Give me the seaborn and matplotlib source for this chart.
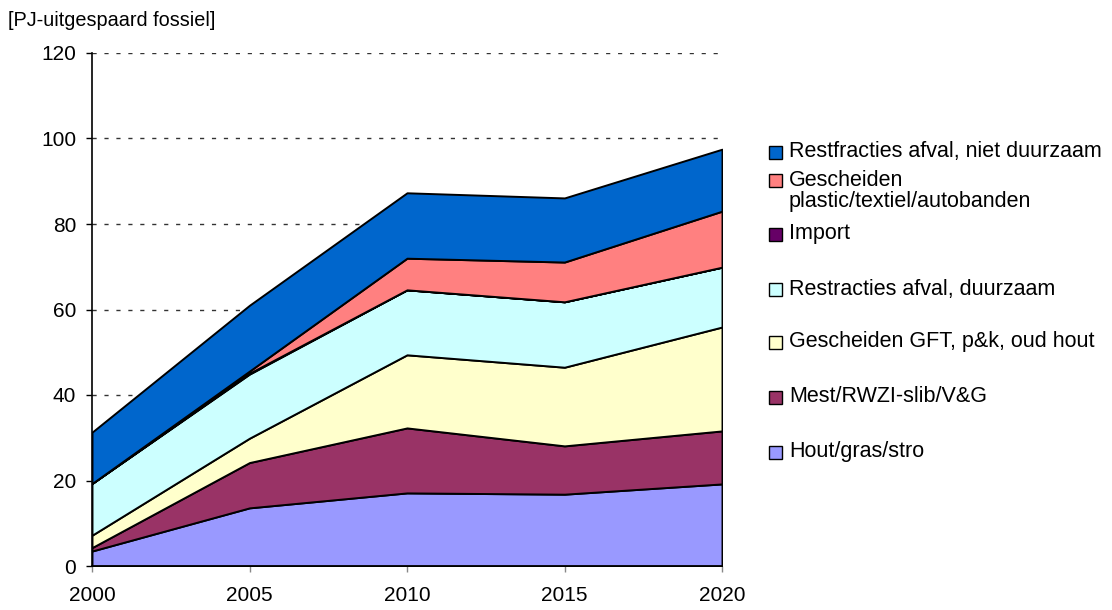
import matplotlib
matplotlib.use("Agg")
import matplotlib.pyplot as plt
from matplotlib.patches import Rectangle
import seaborn as sns

years = [2000, 2005, 2010, 2015, 2020]

# Layer sizes (PJ saved fossil), bottom to top
hout = [3.5, 13.6, 17.1, 16.8, 19.2]
mest = [0.8, 10.6, 15.2, 11.3, 12.4]
gft = [2.9, 5.7, 17.1, 18.4, 24.3]
rest_duurzaam = [12.1, 15.0, 15.2, 15.3, 14.0]
import_ = [0.0, 0.2, 0.0, 0.0, 0.0]
plastic = [0.0, 0.5, 7.4, 9.3, 13.1]
rest_niet = [12.0, 15.4, 15.3, 15.0, 14.5]

labels = [
    "Hout/gras/stro",
    "Mest/RWZI-slib/V&G",
    "Gescheiden GFT, p&k, oud hout",
    "Restracties afval, duurzaam",
    "Import",
    "Gescheiden\nplastic/textiel/autobanden",
    "Restfracties afval, niet duurzaam",
]
colors = ["#9999FF", "#993366", "#FFFFCC", "#CCFFFF", "#660066", "#FF8080", "#0066CC"]
yticks = [0, 20, 40, 60, 80, 100, 120]

sns.set_style("white")
plt.rcParams["font.family"] = ["Liberation Sans", "DejaVu Sans"]
plt.rcParams["text.color"] = "black"
plt.rcParams["xtick.color"] = "black"
plt.rcParams["ytick.color"] = "black"

fig = plt.figure(figsize=(11.12, 6.10), dpi=100)
ax = fig.add_axes([92 / 1112, 1 - 566 / 610, 630 / 1112, 513 / 610])

layers = [hout, mest, gft, rest_duurzaam, import_, plastic, rest_niet]
ax.stackplot(years, *layers, colors=colors, edgecolor="black", linewidth=1.4, zorder=2)

ax.set_xlim(2000, 2020)
ax.set_ylim(0, 120)
ax.set_xticks(years)
ax.set_yticks(yticks)
ax.yaxis.grid(True, linestyle=(0, (3, 5.6)), color="#333333", linewidth=1.0)
ax.set_axisbelow(True)

for side in ["top", "right"]:
    ax.spines[side].set_visible(False)
for side in ["left", "bottom"]:
    ax.spines[side].set_color("black")
    ax.spines[side].set_linewidth(1.2)
    ax.spines[side].set_zorder(3)

ax.tick_params(axis="y", which="major", direction="out", length=4.5, width=1,
               color="black", labelcolor="black", labelsize=15, pad=7, left=True)
ax.tick_params(axis="x", which="major", direction="out", length=4.5, width=1,
               color="#888888", labelcolor="black", labelsize=15, pad=10, bottom=True)

fig.text(8 / 1112, 1 - 20 / 610, "[PJ-uitgespaard fossiel]", fontsize=14.3,
         ha="left", va="center")

# Legend, top entry first: (layer index, text centre y in pixels)
legend_rows = [
    (6, 152, 152),
    (5, 180, 191),
    (4, 234, 234),
    (3, 289, 289),
    (2, 342, 342),
    (1, 397, 397),
    (0, 452, 452),
]
box = 13
for idx, y_box, y_text in legend_rows:
    fig.patches.append(Rectangle((769 / 1112, 1 - (y_box + box / 2) / 610), box / 1112, box / 610,
                                 transform=fig.transFigure, facecolor=colors[idx],
                                 edgecolor="black", linewidth=1.0))
    fig.text(789 / 1112, 1 - y_text / 610, labels[idx], fontsize=15.5, ha="left",
             va="center", linespacing=1.0)

fig.savefig("out.png", dpi=100)
